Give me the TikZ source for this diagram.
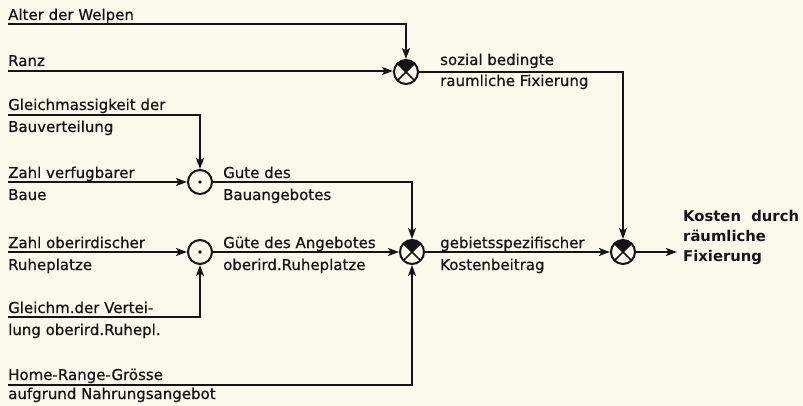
\documentclass[tikz,border=0pt]{standalone}
\usepackage{fontspec}
\setmainfont{DejaVu Sans}[FakeBold=0.6]
\newfontfamily\boldlbl{DejaVu Sans Bold}
\usetikzlibrary{arrows.meta}
\definecolor{paper}{RGB}{251,248,236}
\definecolor{ink}{RGB}{20,20,20}
\begin{document}
\begin{tikzpicture}[x=1pt,y=-1pt,
  every node/.style={text=ink},
  lbl/.style={anchor=base west, inner sep=0pt, font=\fontsize{15}{17}\selectfont},
  outlbl/.style={anchor=base west, inner sep=0pt, font=\fontsize{14.8}{17}\selectfont\boldlbl},
  wire/.style={draw=ink, line width=1.5pt},
  arr/.style={wire, -{Stealth[length=11pt,width=8pt,inset=2.5pt]}},
  mult/.style={circle, draw=ink, line width=2pt, minimum size=24pt, inner sep=0pt,
    path picture={
      \fill[ink] (path picture bounding box.center) -- ++(-20pt,20pt) -- ++(40pt,0pt) -- cycle;
      \draw[ink, line width=1.6pt] ([shift={(-12pt,-12pt)}]path picture bounding box.center) -- ([shift={(12pt,12pt)}]path picture bounding box.center);
      \draw[ink, line width=1.6pt] ([shift={(-12pt,12pt)}]path picture bounding box.center) -- ([shift={(12pt,-12pt)}]path picture bounding box.center);
    }},
  dotc/.style={circle, draw=ink, line width=2pt, minimum size=24pt, inner sep=0pt,
    path picture={\fill[ink] (path picture bounding box.center) circle (1.8pt);}}
]
\fill[paper] (0,0) rectangle (803,406);
\useasboundingbox (0,0) rectangle (803,406);

% operator nodes
\node[mult] (m1) at (406,72) {};
\node[dotc] (d1) at (200,182) {};
\node[dotc] (d2) at (200,252) {};
\node[mult] (m2) at (412,252) {};
\node[mult] (m3) at (623,252) {};

% free ends
\coordinate (sAlter) at (8,24);
\coordinate (sRanz) at (8,71);
\coordinate (sGleich) at (8,115);
\coordinate (sZahlV) at (8,182);
\coordinate (sZahlO) at (8,252);
\coordinate (sGleichm) at (8,317);
\coordinate (sHome) at (8,385);
\coordinate (out) at (677,252);

% labels
\node[lbl] (tAlter) at (8,20) {Alter der Welpen};
\node[lbl] (tRanz) at (8,66) {Ranz};
\node[lbl] (tGl1) at (8,110) {Gleichmassigkeit der};
\node[lbl] (tGl2) at (8,132) {Bauverteilung};
\node[lbl] (tZv1) at (8,178) {Zahl verfugbarer};
\node[lbl] (tZv2) at (8,200) {Baue};
\node[lbl] (tZo1) at (8,248) {Zahl oberirdischer};
\node[lbl] (tZo2) at (8,270) {Ruheplatze};
\node[lbl] (tGm1) at (8,313) {Gleichm.der Vertei-};
\node[lbl] (tGm2) at (8,335) {lung oberird.Ruhepl.};
\node[lbl] (tH1) at (8,380) {Home-Range-Grösse};
\node[lbl] (tH2) at (8,399) {aufgrund Nahrungsangebot};

\node[lbl] (tS1) at (440,65) {sozial bedingte};
\node[lbl] (tS2) at (440,86) {raumliche Fixierung};
\node[lbl] (tB1) at (223,178) {Gute des};
\node[lbl] (tB2) at (223,200) {Bauangebotes};
\node[lbl] (tR1) at (223,248) {Güte des Angebotes};
\node[lbl] (tR2) at (223,270) {oberird.Ruheplatze};
\node[lbl] (tK1) at (440,248) {gebietsspezifischer};
\node[lbl] (tK2) at (440,270) {Kostenbeitrag};

\node[outlbl] (tO1) at (683,222) {Kosten\ \ durch};
\node[outlbl] (tO2) at (683,241) {räumliche};
\node[outlbl] (tO3) at (683,261) {Fixierung};

% connectors
\draw[arr] (sAlter) -| (m1.north);
\draw[arr] (sRanz) -- (sRanz -| m1.west);
\draw[arr] (m1.east) -| (m3.north);
\draw[arr] (sGleich) -| (d1.north);
\draw[arr] (sZahlV) -- (d1.west);
\draw[arr] (d1.east) -| (m2.north);
\draw[arr] (sZahlO) -- (d2.west);
\draw[arr] (sGleichm) -| (d2.south);
\draw[arr] (d2.east) -- (m2.west);
\draw[arr] (sHome) -| (m2.south);
\draw[arr] (m2.east) -- (m3.west);
\draw[arr] (m3.east) -- (out);
\end{tikzpicture}
\end{document}
